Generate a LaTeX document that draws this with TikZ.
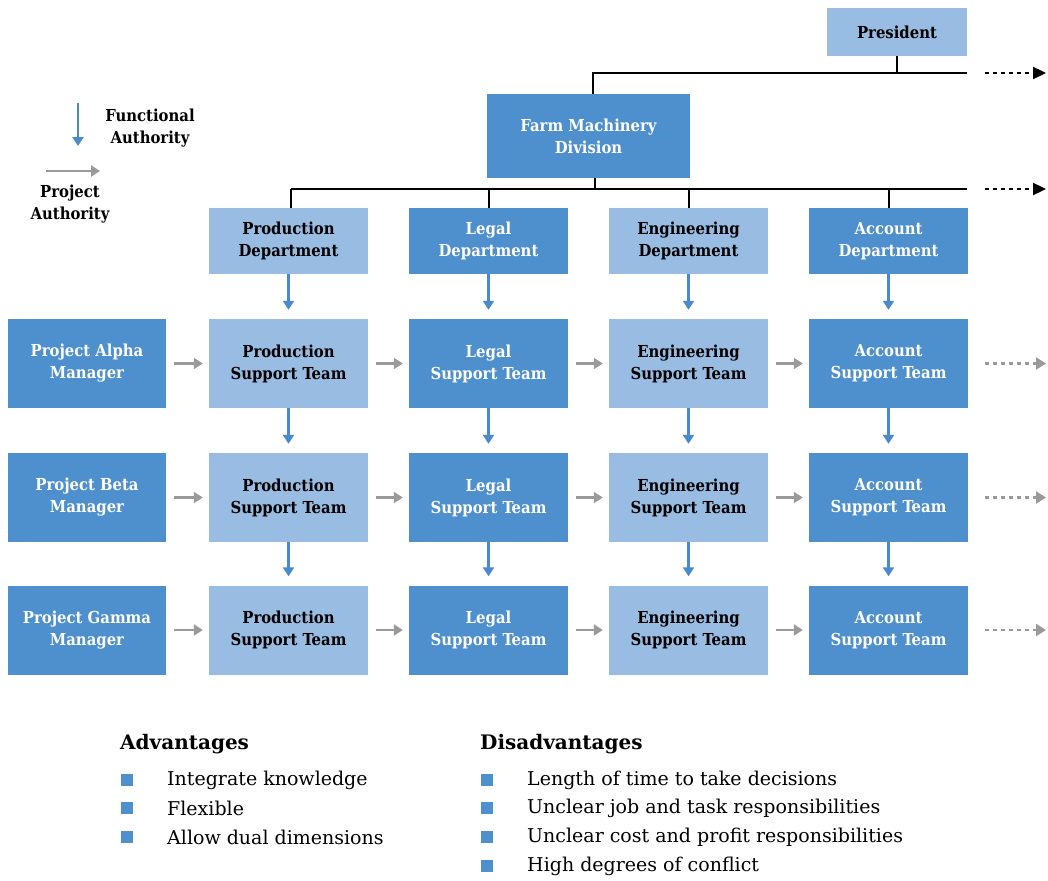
\documentclass[tikz,border=0pt]{standalone}
\usepackage{fontspec}
\setmainfont{DejaVu Serif}
\newfontfamily\boxfont{DejaVu Serif Condensed}
\usetikzlibrary{arrows.meta}
\definecolor{lightb}{HTML}{98BCE2}
\definecolor{darkb}{HTML}{4E8FCD}
\definecolor{arrb}{HTML}{4A8ACB}
\definecolor{grayarr}{HTML}{9A9A9C}
\tikzset{
  box/.style={minimum width=159pt, minimum height=89pt, inner sep=0pt, align=center,
    font=\boxfont\bfseries\fontsize{16.5}{22}\selectfont},
  lbox/.style={box, fill=lightb, text=black},
  dbox/.style={box, fill=darkb, text=white},
  farr/.style={draw=arrb, line width=2.4pt, -{Triangle[length=9pt,width=11pt]}},
  parr/.style={draw=grayarr, line width=2.4pt, -{Triangle[length=9pt,width=11pt]}},
  pdot/.style={draw=grayarr, line width=2.2pt, dash pattern=on 4pt off 4pt, -{Triangle[length=10pt,width=12pt]}},
  kdot/.style={draw=black, line width=2.2pt, dash pattern=on 4pt off 4pt, -{Triangle[length=13pt,width=12pt]}},
  orgline/.style={draw=black, line width=2.2pt},
  legtxt/.style={font=\boxfont\bfseries\fontsize{16.5}{22}\selectfont, align=center, inner sep=0pt},
  head/.style={font=\bfseries\fontsize{20}{24}\selectfont, anchor=west, inner sep=0pt},
  item/.style={font=\fontsize{19}{24}\selectfont, anchor=west, inner sep=0pt},
  bul/.style={fill=darkb, minimum size=12pt, inner sep=0pt}
}
\begin{document}
\begin{tikzpicture}[x=1pt,y=-1pt]
\useasboundingbox (0,0) rectangle (1048,880);
% top
\node[lbox, minimum width=140pt, minimum height=48pt] (pres) at (897,32) {President};
\node[dbox, minimum width=203pt, minimum height=84pt] (fmd) at (588.5,136) {Farm Machinery\\Division};
\coordinate (j1) at (897,73);
\coordinate (l1) at (593,73);
\coordinate (r1) at (967,73);
\coordinate (d1a) at (985,73);
\coordinate (d1b) at (1046,73);
\draw[orgline] (pres.south) -- (j1);
\draw[orgline] (l1 |- fmd.north) -- (l1) -- (r1);
\draw[kdot] (d1a) -- (d1b);
% departments
\node[lbox, minimum height=66pt] (dep1) at (288.5,241) {Production\\Department};
\node[dbox, minimum height=66pt] (dep2) at (488.5,241) {Legal\\Department};
\node[lbox, minimum height=66pt] (dep3) at (688.5,241) {Engineering\\Department};
\node[dbox, minimum height=66pt] (dep4) at (888.5,241) {Account\\Department};
\coordinate (j2) at (595,189);
\coordinate (l2) at (291,189);
\coordinate (r2) at (967,189);
\draw[orgline] (j2 |- fmd.south) -- (j2);
\draw[orgline] (l2) -- (r2);
\draw[orgline] (l2) -- (l2 |- dep1.north);
\draw[orgline] (489,189) -- (489,208);
\draw[orgline] (689,189) -- (689,208);
\draw[orgline] (889,189) -- (889,208);
\draw[kdot] (985,189) -- (1046,189);
% rows
\foreach \r/\y/\nm in {1/363.5/Alpha, 2/497.5/Beta, 3/630/Gamma}{
  \node[dbox, minimum width=158pt, minimum height=89pt] (m\r) at (87,\y) {Project \nm\\Manager};
  \node[lbox] (a\r) at (288.5,\y) {Production\\Support Team};
  \node[dbox] (b\r) at (488.5,\y) {Legal\\Support Team};
  \node[lbox] (c\r) at (688.5,\y) {Engineering\\Support Team};
  \node[dbox] (d\r) at (888.5,\y) {Account\\Support Team};
  \coordinate (e\r) at (1046,\y);
  \draw[parr] ([xshift=8pt]m\r.east) -- ([xshift=-6pt]a\r.west);
  \draw[parr] ([xshift=8pt]a\r.east) -- ([xshift=-6pt]b\r.west);
  \draw[parr] ([xshift=8pt]b\r.east) -- ([xshift=-6pt]c\r.west);
  \draw[parr] ([xshift=8pt]c\r.east) -- ([xshift=-6pt]d\r.west);
  \draw[pdot] ([xshift=17pt]d\r.east) -- (e\r);
}
\foreach \c/\x in {1/a,2/b,3/c,4/d}{
  \draw[farr] (dep\c.south) -- ([yshift=9pt]\x1.north);
  \draw[farr] (\x1.south) -- ([yshift=9pt]\x2.north);
  \draw[farr] (\x2.south) -- ([yshift=9pt]\x3.north);
}
% legend
\coordinate (fa1) at (78,103);
\coordinate (fa2) at (78,146);
\draw[farr] (fa1) -- (fa2);
\node[legtxt] (ft) at (150,128) {Functional\\Authority};
\coordinate (pa1) at (46,171);
\coordinate (pa2) at (100,171);
\draw[parr] (pa1) -- (pa2);
\node[legtxt] (pt) at (70,204) {Project\\Authority};
% lists
\node[head] (adv) at (120,744) {Advantages};
\node[head] (dis) at (480,744) {Disadvantages};
\foreach \i/\y/\t in {1/780/Integrate knowledge, 2/808/Flexible, 3/837/Allow dual dimensions}{
  \node[bul] (ab\i) at (127,\y) {};
  \node[item] (at\i) at (167,\y) {\t};
}
\foreach \i/\y/\t in {1/780/Length of time to take decisions, 2/808/Unclear job and task responsibilities, 3/837/Unclear cost and profit responsibilities, 4/866/High degrees of conflict}{
  \node[bul] (db\i) at (487,\y) {};
  \node[item] (dt\i) at (527,\y) {\t};
}
\end{tikzpicture}
\end{document}
